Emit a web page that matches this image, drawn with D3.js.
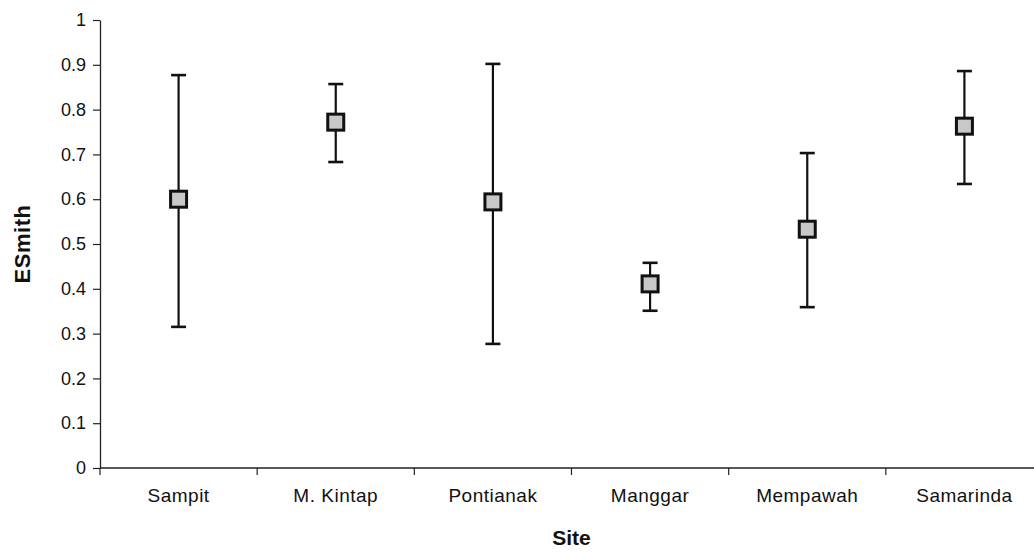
<!DOCTYPE html>
<html>
<head>
<meta charset="utf-8">
<script src="https://cdn.jsdelivr.net/npm/d3@7"></script>
<style>
  body { margin: 0; background: #fff; }
  svg { font-family: "Liberation Sans", Arial, sans-serif; }
</style>
</head>
<body>
<div id="chart"></div>
<script>
"use strict";

var sites = ["Sampit", "M. Kintap", "Pontianak", "Manggar", "Mempawah", "Samarinda"];
var means = [0.600, 0.772, 0.594, 0.411, 0.533, 0.763];
var upper = [0.877, 0.857, 0.902, 0.458, 0.703, 0.886];
var lower = [0.315, 0.683, 0.277, 0.351, 0.359, 0.634];
var yTicks = [0, 0.1, 0.2, 0.3, 0.4, 0.5, 0.6, 0.7, 0.8, 0.9, 1];

var W = 1034, H = 557;
var margin = {top: 20, left: 100, right: -9, bottom: 89};
var width = W - margin.left - margin.right;
var height = H - margin.top - margin.bottom;

var data = sites.map((s, i) => ({site: s, mean: means[i], hi: upper[i], lo: lower[i]}));

var svg = d3.select("#chart")
    .append("svg")
    .attr("width", W)
    .attr("height", H);

var g = svg.append("g")
    .attr("transform", "translate(" + margin.left + "," + margin.top + ")");

var x = d3.scaleBand()
    .domain(sites)
    .range([0, width]);

var y = d3.scaleLinear()
    .domain([0, 1])
    .range([height, 0]);

// Y axis
var yAxis = g.append("g")
    .call(d3.axisLeft(y).tickValues(yTicks).tickFormat(d => d === 0 || d === 1 ? d : d3.format(".1f")(d)).tickSize(7).tickSizeOuter(0).tickPadding(7));
yAxis.select(".domain").attr("stroke", "#222").attr("stroke-width", 1.3);
yAxis.selectAll(".tick line").attr("stroke", "#222").attr("stroke-width", 1.2);
yAxis.selectAll("text").attr("font-size", 18).attr("fill", "#111");

// X axis with ticks at band boundaries
var xAxis = g.append("g")
    .attr("transform", "translate(0," + height + ")");
xAxis.append("line")
    .attr("x1", 0).attr("x2", width)
    .attr("stroke", "#222").attr("stroke-width", 1.3);
xAxis.selectAll(".bound")
    .data(sites)
    .enter().append("line")
    .attr("class", "bound")
    .attr("x1", d => x(d)).attr("x2", d => x(d))
    .attr("y1", 0).attr("y2", 7)
    .attr("stroke", "#222").attr("stroke-width", 1.2);
xAxis.selectAll(".lab")
    .data(sites)
    .enter().append("text")
    .attr("class", "lab")
    .attr("x", d => x(d) + x.bandwidth() / 2)
    .attr("y", 34)
    .attr("text-anchor", "middle")
    .attr("font-size", 19)
    .attr("letter-spacing", 0.5)
    .attr("fill", "#111")
    .text(d => d);

// axis titles
svg.append("text")
    .attr("x", margin.left + x(sites[2]) + x.bandwidth())
    .attr("y", 545)
    .attr("text-anchor", "middle")
    .attr("font-size", 21)
    .attr("font-weight", "bold")
    .attr("fill", "#111")
    .text("Site");

svg.append("text")
    .attr("transform", "translate(30," + (margin.top + y(0.5)) + ") rotate(-90)")
    .attr("text-anchor", "middle")
    .attr("font-size", 22)
    .attr("font-weight", "bold")
    .attr("letter-spacing", 0.5)
    .attr("fill", "#111")
    .text("ESmith");

// error bars
var cx = d => x(d.site) + x.bandwidth() / 2;
var marks = g.selectAll(".pt")
    .data(data)
    .enter().append("g")
    .attr("class", "pt");

marks.append("line")
    .attr("x1", cx).attr("x2", cx)
    .attr("y1", d => y(d.hi)).attr("y2", d => y(d.lo))
    .attr("stroke", "#111").attr("stroke-width", 2.2);
marks.append("line")
    .attr("x1", d => cx(d) - 7.5).attr("x2", d => cx(d) + 7.5)
    .attr("y1", d => y(d.hi)).attr("y2", d => y(d.hi))
    .attr("stroke", "#111").attr("stroke-width", 2.6);
marks.append("line")
    .attr("x1", d => cx(d) - 7.5).attr("x2", d => cx(d) + 7.5)
    .attr("y1", d => y(d.lo)).attr("y2", d => y(d.lo))
    .attr("stroke", "#111").attr("stroke-width", 2.6);
marks.append("rect")
    .attr("x", d => cx(d) - 8)
    .attr("y", d => y(d.mean) - 8)
    .attr("width", 16).attr("height", 16)
    .attr("fill", "#c8c8c8")
    .attr("stroke", "#111").attr("stroke-width", 3);
</script>
</body>
</html>
